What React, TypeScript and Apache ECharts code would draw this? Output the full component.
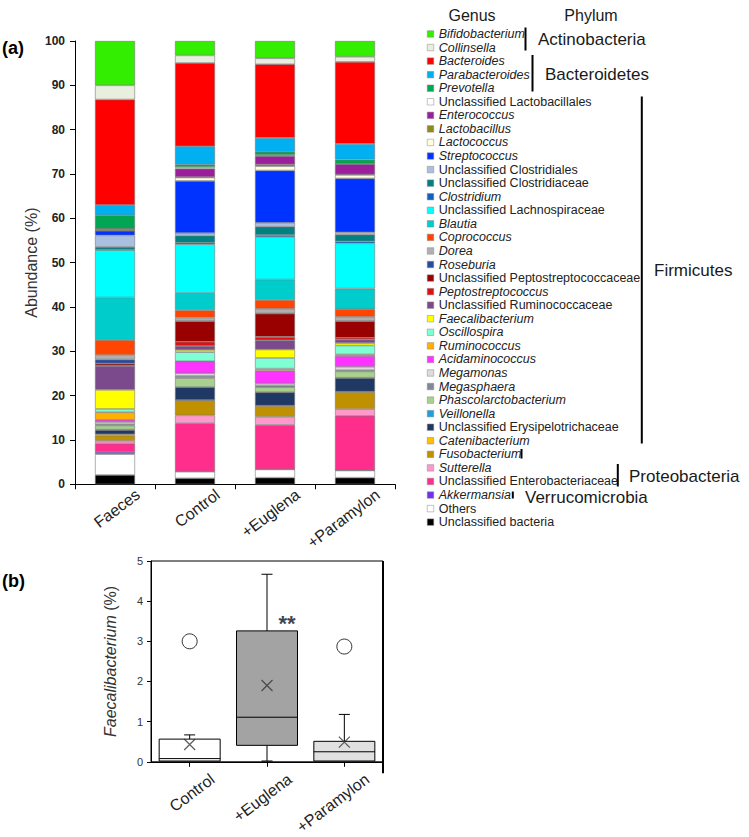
import React, { useEffect, useRef } from "react";
import * as echarts from "echarts";

// ---------- (a) stacked bars ----------
const categories = ["Faeces", "Control", "+Euglena", "+Paramylon"];

// taxa from bottom of stack to top
const taxa = [
  "Unclassified bacteria",
  "Others",
  "Akkermansia",
  "Unclassified Enterobacteriaceae",
  "Sutterella",
  "Fusobacterium",
  "Catenibacterium",
  "Unclassified Erysipelotrichaceae",
  "Veillonella",
  "Phascolarctobacterium",
  "Megasphaera",
  "Megamonas",
  "Acidaminococcus",
  "Ruminococcus",
  "Oscillospira",
  "Faecalibacterium",
  "Unclassified Ruminococcaceae",
  "Peptostreptococcus",
  "Unclassified Peptostreptococcaceae",
  "Roseburia",
  "Dorea",
  "Coprococcus",
  "Blautia",
  "Unclassified Lachnospiraceae",
  "Clostridium",
  "Unclassified Clostridiaceae",
  "Unclassified Clostridiales",
  "Streptococcus",
  "Lactococcus",
  "Lactobacillus",
  "Enterococcus",
  "Unclassified Lactobacillales",
  "Prevotella",
  "Parabacteroides",
  "Bacteroides",
  "Collinsella",
  "Bifidobacterium",
];

const taxaColors = [
  "#000000", "#ffffff", "#7030f0", "#ff2d8c", "#ff99cc", "#bf9000",
  "#ffc000", "#1f3864", "#1ea0e0", "#a9d18e", "#808898", "#dcdcdc",
  "#ff33ff", "#ffb000", "#7fffd4", "#ffff00", "#7b4a8c", "#e01010",
  "#990000", "#244da0", "#b0b0b0", "#ff4500", "#00cccc", "#00ffff",
  "#1060c0", "#008080", "#aac0e0", "#0033ff", "#ffffe0", "#8c8c1a",
  "#9b1f9b", "#ffffff", "#00a651", "#00b0f0", "#ff0000", "#e8efdf",
  "#33ee00",
];

const nonItalicTaxa = [
  "Unclassified bacteria",
  "Others",
  "Unclassified Enterobacteriaceae",
  "Unclassified Erysipelotrichaceae",
  "Unclassified Ruminococcaceae",
  "Unclassified Peptostreptococcaceae",
  "Unclassified Lachnospiraceae",
  "Unclassified Clostridiaceae",
  "Unclassified Clostridiales",
  "Unclassified Lactobacillales",
];

const faeces = [2.1, 4.7, 0.5, 1.9, 0.6, 1.2, 0.3, 0.95, 0.1, 0.9, 0.3, 0.5, 0.5, 1.7, 0.75, 4.3, 5.4, 0.1, 0.45, 0.9, 1.0, 3.4, 9.6, 10.7, 0.1, 0.6, 2.6, 1.05, 0, 0.4, 0.1, 0, 3.0, 2.3, 23.8, 3.2, 10.0];
const control = [1.35, 1.5, 0.05, 10.9, 1.75, 3.4, 0.05, 2.9, 0.05, 2.0, 0.5, 0.6, 2.65, 0.05, 2.05, 0.5, 0.9, 0.95, 4.65, 0.05, 0.75, 1.7, 3.85, 11.0, 0.35, 1.6, 0.55, 11.8, 0.75, 0.1, 1.9, 0.35, 0.6, 4.1, 18.8, 1.7, 3.25];
const euglena = [1.5, 1.85, 0.05, 10.0, 1.8, 2.5, 0.05, 3.0, 0.05, 1.1, 0.4, 0.45, 2.9, 0.45, 2.4, 1.9, 2.1, 0.75, 5.25, 0.05, 1.05, 2.0, 4.6, 9.6, 0.4, 1.9, 0.9, 11.8, 0.95, 0.4, 1.9, 0.2, 0.75, 3.15, 16.6, 1.35, 3.9];
const paramylon = [1.5, 1.6, 0.05, 12.3, 1.5, 3.9, 0.05, 3.1, 0.05, 1.4, 0.3, 0.75, 2.45, 0.35, 2.0, 0.55, 0.8, 0.4, 3.75, 0.05, 0.95, 1.7, 4.65, 10.2, 0.45, 1.5, 0.55, 12.15, 0.8, 0.1, 2.35, 0.05, 0.95, 3.55, 18.5, 1.15, 3.55];

// ---------- (b) box plot ----------
const boxCategories = ["Control", "+Euglena", "+Paramylon"];
// [min, Q1, median, Q3, max]
const boxStats = [
  [0.01, 0.02, 0.08, 0.565, 0.67],
  [0.02, 0.41, 1.11, 3.26, 4.67],
  [0.02, 0.02, 0.25, 0.51, 1.18],
];
const boxMeans = [0.43, 1.9, 0.49];
const boxOutliers = [
  [0, 3.0],
  [2, 2.87],
];
const boxFills = ["#ffffff", "#a3a3a3", "#e0e0e0"];
const significance = [[1, 3.45, "**"]];

const FONT = "'Liberation Sans', Arial, Helvetica, sans-serif";

export default function App() {
  const ref = useRef<HTMLDivElement>(null);

  useEffect(() => {
    if (!ref.current) return;
    const chart = echarts.init(ref.current, null, { renderer: "svg" });

    const barSeries = taxa.map((name, i) => ({
      name,
      type: "bar",
      stack: "total",
      xAxisIndex: 0,
      yAxisIndex: 0,
      barWidth: 40,
      data: [faeces[i], control[i], euglena[i], paramylon[i]],
      itemStyle: { color: taxaColors[i], borderColor: "#7a7a7a", borderWidth: 0.6 },
      emphasis: { disabled: true },
    }));

    const legendNames = taxa.slice().reverse();

    const xLabel = (margin: number) => ({
      rotate: 37,
      fontSize: 16,
      color: "#222",
      fontFamily: FONT,
      interval: 0,
      verticalAlign: "top",
      padding: [30, 0, 0, 0],
      lineHeight: 16,
      margin,
    });

    const line = (x1: number, y1: number, x2: number, y2: number, w = 2) => ({
      type: "line",
      shape: { x1, y1, x2, y2 },
      style: { stroke: "#000", lineWidth: w },
      silent: true,
    });
    const txt = (text: string, x: number, y: number, size: number, extra: any = {}) => ({
      type: "text",
      x,
      y,
      silent: true,
      style: {
        text,
        fontSize: size,
        fontFamily: FONT,
        fill: "#1a1a1a",
        align: "left",
        verticalAlign: "middle",
        ...extra,
      },
    });

    const option: any = {
      animation: false,
      backgroundColor: "#ffffff",
      textStyle: { fontFamily: FONT },
      grid: [
        { left: 75, top: 41, width: 320, height: 443.3 },
        {
          left: 151,
          top: 561,
          width: 232,
          height: 212.3,
          show: true,
          borderColor: "#000",
          borderWidth: 1,
          backgroundColor: "transparent",
        },
      ],
      xAxis: [
        {
          type: "category",
          gridIndex: 0,
          data: categories,
          axisLine: { lineStyle: { color: "#000", width: 1 } },
          axisTick: { show: true, length: 5, lineStyle: { color: "#000" } },
          axisLabel: xLabel(-22),
        },
        {
          type: "category",
          gridIndex: 1,
          data: boxCategories,
          axisLine: { lineStyle: { color: "#000", width: 1 } },
          axisTick: { show: true, alignWithLabel: true, length: 5, lineStyle: { color: "#000" } },
          axisLabel: xLabel(-15),
        },
      ],
      yAxis: [
        {
          type: "value",
          gridIndex: 0,
          min: 0,
          max: 100,
          interval: 10,
          name: "Abundance (%)",
          nameLocation: "middle",
          nameGap: 36,
          nameTextStyle: { fontSize: 16, color: "#333", fontFamily: FONT },
          axisLine: { show: true, lineStyle: { color: "#000", width: 1 } },
          axisTick: { show: true, length: 5, lineStyle: { color: "#000" } },
          axisLabel: { fontSize: 12, fontWeight: "bold", color: "#222", margin: 10, fontFamily: FONT },
          splitLine: { show: false },
        },
        {
          type: "value",
          gridIndex: 1,
          min: 0,
          max: 5,
          interval: 1,
          name: "{i|Faecalibacterium} (%)",
          nameLocation: "middle",
          nameGap: 33,
          nameTextStyle: {
            fontSize: 16,
            color: "#333",
            fontFamily: FONT,
            rich: { i: { fontSize: 16, fontStyle: "italic", color: "#333", fontFamily: FONT } },
          },
          axisLine: { show: true, lineStyle: { color: "#000", width: 1 } },
          axisTick: { show: true, length: 4, lineStyle: { color: "#000" } },
          axisLabel: { fontSize: 11, color: "#333", margin: 8, fontFamily: FONT },
          splitLine: { show: false },
        },
      ],
      legend: {
        orient: "vertical",
        left: 422,
        top: 22.2,
        itemWidth: 6.5,
        itemHeight: 6.5,
        itemGap: 0,
        icon: "rect",
        selectedMode: false,
        data: legendNames,
        itemStyle: { borderColor: "#888", borderWidth: 0.5 },
        formatter: (name: string) =>
          nonItalicTaxa.includes(name) ? `{n|${name}}` : `{i|${name}}`,
        textStyle: {
          fontSize: 12.5,
          color: "#222",
          fontFamily: FONT,
          lineHeight: 13.56,
          rich: {
            i: { fontSize: 12.5, fontStyle: "italic", color: "#222", lineHeight: 13.56, fontFamily: FONT },
            n: { fontSize: 12.5, color: "#222", lineHeight: 13.56, fontFamily: FONT },
          },
        },
      },
      series: [
        ...barSeries,
        {
          type: "custom",
          name: "box",
          xAxisIndex: 1,
          yAxisIndex: 1,
          encode: { x: 0, y: [1, 2, 3, 4, 5] },
          data: boxStats.map((s, i) => [i, ...s]),
          renderItem: (params: any, api: any) => {
            const xi = api.value(0);
            const vmin = api.value(1);
            const q1 = api.value(2);
            const med = api.value(3);
            const q3 = api.value(4);
            const vmax = api.value(5);
            const px = api.coord([xi, q3])[0];
            const yMin = api.coord([xi, vmin])[1];
            const yQ1 = api.coord([xi, q1])[1];
            const yMed = api.coord([xi, med])[1];
            const yQ3 = api.coord([xi, q3])[1];
            const yMax = api.coord([xi, vmax])[1];
            const bw = 61;
            const cap = 11;
            const st = { stroke: "#000", lineWidth: 1 };
            const children: any[] = [
              { type: "line", shape: { x1: px, y1: yQ3, x2: px, y2: yMax }, style: st },
              { type: "line", shape: { x1: px - cap / 2, y1: yMax, x2: px + cap / 2, y2: yMax }, style: st },
            ];
            if (yMin - yQ1 > 1) {
              children.push(
                { type: "line", shape: { x1: px, y1: yQ1, x2: px, y2: yMin }, style: st },
                { type: "line", shape: { x1: px - cap / 2, y1: yMin, x2: px + cap / 2, y2: yMin }, style: st }
              );
            }
            children.push(
              {
                type: "rect",
                shape: { x: px - bw / 2, y: yQ3, width: bw, height: yQ1 - yQ3 },
                style: { fill: boxFills[params.dataIndex], stroke: "#000", lineWidth: 1 },
              },
              { type: "line", shape: { x1: px - bw / 2, y1: yMed, x2: px + bw / 2, y2: yMed }, style: st }
            );
            return { type: "group", children };
          },
          z: 2,
        },
        {
          type: "scatter",
          name: "mean",
          xAxisIndex: 1,
          yAxisIndex: 1,
          data: boxMeans.map((m, i) => [i, m]),
          symbol: "path://M0,0L10,10M10,0L0,10",
          symbolSize: 11,
          itemStyle: { color: "rgba(0,0,0,0)", borderColor: "#333", borderWidth: 1.2 },
          z: 5,
        },
        {
          type: "scatter",
          name: "outlier",
          xAxisIndex: 1,
          yAxisIndex: 1,
          data: boxOutliers,
          symbol: "circle",
          symbolSize: 15,
          itemStyle: { color: "#fff", borderColor: "#000", borderWidth: 1 },
          z: 5,
        },
        {
          type: "scatter",
          name: "sig",
          xAxisIndex: 1,
          yAxisIndex: 1,
          data: significance.map((d) => [d[0], d[1]]),
          symbolSize: 0,
          itemStyle: { color: "#000" },
          label: {
            show: true,
            position: "inside",
            offset: [20, 0],
            formatter: () => String(significance[0][2]),
            fontSize: 22,
            fontWeight: "bold",
            color: "#111",
            textBorderWidth: 0,
            fontFamily: FONT,
          },
          z: 6,
        },
      ],
      graphic: [
        txt("(a)", 2, 48, 18, { fontWeight: "bold", fill: "#000" }),
        txt("(b)", 2, 581, 18, { fontWeight: "bold", fill: "#000" }),
        txt("Genus", 472, 15, 16, { align: "center" }),
        txt("Phylum", 591, 15, 16, { align: "center" }),
        txt("Actinobacteria", 538, 39.5, 17),
        txt("Bacteroidetes", 545, 74, 17),
        txt("Firmicutes", 654, 270.5, 17),
        txt("Proteobacteria", 629, 476, 17),
        txt("Verrucomicrobia", 525, 497, 17),
        line(525.5, 27.5, 525.5, 50.5),
        line(532.5, 55, 532.5, 91.5),
        line(641.8, 96.5, 641.8, 443.5),
        line(521.5, 449, 521.5, 458.5),
        line(617.8, 464, 617.8, 486.5),
        line(512.8, 491.5, 512.8, 498.5),
        line(383, 561, 383, 773.3, 2),
      ],
    };

    chart.setOption(option);
    return () => chart.dispose();
  }, []);

  return (
    <div
      ref={ref}
      style={{ position: "absolute", left: 0, top: 0, width: 749, height: 837 }}
    />
  );
}
